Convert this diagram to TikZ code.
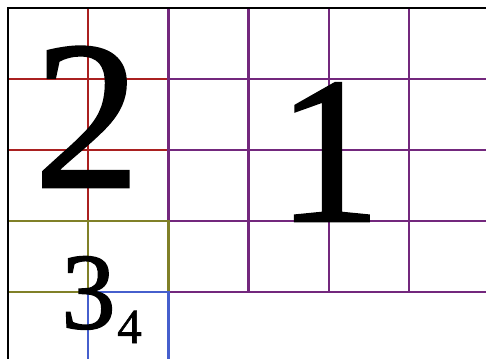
\documentclass[tikz,border=0pt]{standalone}
\usepackage{fontspec}
\setmainfont{Liberation Serif}
\newfontfamily\digitfont[FakeBold=1.2]{Liberation Serif}
\definecolor{gridred}{RGB}{170,32,32}
\definecolor{gridpurple}{RGB}{115,40,125}
\definecolor{gridolive}{RGB}{128,128,40}
\definecolor{gridblue}{RGB}{70,95,205}
\tikzset{
  gline/.style={line width=2.4pt},
  digit/.style={inner sep=0pt, outer sep=0pt, anchor=base, text=black}
}
\begin{document}
\begin{tikzpicture}[x=1pt,y=-1pt]
\useasboundingbox (0,0) rectangle (486,358);
\clip (0,0) rectangle (486,358);
\fill[white] (0,0) rectangle (486,358);
% red grid
\draw[gline,gridred] (8,8) rectangle (168.4,221);
\draw[gline,gridred] (88.2,8) -- (88.2,221);
\draw[gline,gridred] (8,79) -- (168.4,79);
\draw[gline,gridred] (8,150) -- (168.4,150);
% purple grid
\draw[gline,gridpurple] (168.4,8) -- (168.4,292);
\foreach \x in {248.6,328.8,409} \draw[gline,gridpurple] (\x,8) -- (\x,292);
\foreach \y in {79,150,221,292} \draw[gline,gridpurple] (168.4,\y) -- (490,\y);
% olive grid
\draw[gline,gridolive] (8,221) rectangle (168.4,292);
\draw[gline,gridolive] (88.2,221) -- (88.2,292);
% blue box
\draw[gline,gridblue] (88.2,365) -- (88.2,292) -- (168.4,292) -- (168.4,365);
% black frame
\draw[line width=2pt,black] (8,365) -- (8,8) -- (490,8);
% digits
\node[digit,font=\digitfont\fontsize{212}{212}\selectfont] (two) at (87,187) {2};
\node[digit,font=\digitfont\fontsize{209}{209}\selectfont] (one) at (329,221) {1};
\node[digit,font=\digitfont\fontsize{109}{109}\selectfont] (three) at (88.5,328.5) {3};
\node[digit,font=\digitfont\fontsize{49}{49}\selectfont] (four) at (129.5,343) {4};
\end{tikzpicture}
\end{document}
